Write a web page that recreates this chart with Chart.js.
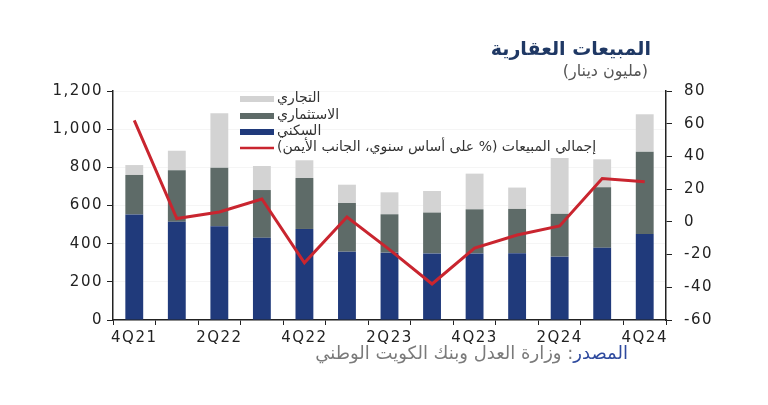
<!DOCTYPE html>
<html>
<head>
<meta charset="utf-8">
<script src="https://cdn.jsdelivr.net/npm/chart.js@4"></script>
<style>
  body { margin: 0; background: #fff; }
  #wrap { position: relative; width: 768px; height: 405px; }
  canvas { position: absolute; left: 0; top: 0; }
  .txt { position: absolute; direction: rtl; font-family: "DejaVu Sans", sans-serif; white-space: nowrap; }
  #title { right: 117px; top: 37px; font-size: 19px; font-weight: bold; color: #1F3864; }
  #sub { right: 120px; top: 61px; font-size: 16px; color: #555; }
  #src { right: 140px; top: 342px; font-size: 18px; color: #7a7a7a; }
  #src span { color: #2E4A9E; }
</style>
</head>
<body>
<div id="wrap">
  <canvas id="c" width="768" height="405"></canvas>
  <div class="txt" id="title">المبيعات العقارية</div>
  <div class="txt" id="sub">(مليون دينار)</div>
  <div class="txt" id="src"><span>المصدر</span>: وزارة العدل وبنك الكويت الوطني</div>
</div>
<script>
const categories = ['4Q21', '1Q22', '2Q22', '3Q22', '4Q22', '1Q23', '2Q23', '3Q23', '4Q23', '1Q24', '2Q24', '3Q24', '4Q24'];
const residential = [553, 515, 491, 431, 477, 358, 353, 349, 349, 350, 332, 379, 451];
const investment = [207, 270, 307, 250, 267, 255, 201, 214, 231, 232, 224, 316, 431];
const commercial = [52, 102, 285, 126, 93, 96, 115, 113, 187, 112, 293, 147, 196];
const totalYoY = [62, 2, 6, 14, -25, 3, -17, -38, -16, -8, -2.5, 26.5, 24.5];

const seriesNames = ['السكني', 'الاستثماري', 'التجاري', 'إجمالي المبيعات (% على أساس سنوي، الجانب الأيمن)'];
const colors = { res: '#203A7B', inv: '#5E6B68', com: '#D3D3D3', line: '#C9252F' };

// wider tick lettering like the original
const spacing = {
  id: 'spacing',
  beforeDraw(chart) { chart.ctx.letterSpacing = '1.5px'; },
  beforeDatasetsDraw(chart) { chart.ctx.letterSpacing = '0px'; }
};

// legend drawn inside the plot, boxes on the left
const legendBox = {
  id: 'legendBox',
  afterDraw(chart) {
    const ctx = chart.ctx;
    const order = [3, 2, 1, 0]; // commercial, investment, residential, line
    const rows = [99, 116, 132, 148];
    ctx.save();
    ctx.font = '14px "DejaVu Sans", sans-serif';
    ctx.textBaseline = 'middle';
    ctx.direction = 'rtl';
    ctx.textAlign = 'left';
    order.forEach((di, i) => {
      const ds = chart.data.datasets[di];
      const y = rows[i];
      if (ds.type === 'line') {
        ctx.strokeStyle = ds.borderColor;
        ctx.lineWidth = 2.5;
        ctx.beginPath();
        ctx.moveTo(240, y);
        ctx.lineTo(274, y);
        ctx.stroke();
      } else {
        ctx.fillStyle = ds.backgroundColor;
        ctx.fillRect(240, y - 3, 34, 6);
      }
      ctx.fillStyle = '#333';
      ctx.fillText(ds.label, 277, y - 1);
    });
    ctx.restore();
  }
};

new Chart(document.getElementById('c'), {
  data: {
    labels: categories,
    datasets: [
      { type: 'line', label: seriesNames[3], data: totalYoY, yAxisID: 'y1', borderColor: colors.line, borderWidth: 3, pointRadius: 0, tension: 0, order: 0 },
      { type: 'bar', label: seriesNames[0], data: residential, backgroundColor: colors.res, stack: 's', order: 1 },
      { type: 'bar', label: seriesNames[1], data: investment, backgroundColor: colors.inv, stack: 's', order: 2 },
      { type: 'bar', label: seriesNames[2], data: commercial, backgroundColor: colors.com, stack: 's', order: 3 }
    ]
  },
  options: {
    responsive: false,
    animation: false,
    layout: { padding: { top: 91, left: 0, right: 0, bottom: 0 } },
    datasets: { bar: { categoryPercentage: 1, barPercentage: 0.42 } },
    plugins: { legend: { display: false }, tooltip: { enabled: false } },
    scales: {
      x: {
        stacked: true,
        afterFit(s) { s.height = 85; },
        grid: { drawOnChartArea: false, tickLength: 5, tickColor: '#222', offset: true },
        border: { color: '#222', width: 1.5 },
        ticks: {
          autoSkip: false, maxRotation: 0, padding: 4, color: '#222',
          font: { family: 'DejaVu Sans', size: 15 },
          callback(v, i) { return i % 2 === 0 ? categories[i] : ''; }
        }
      },
      y: {
        stacked: true,
        position: 'left',
        min: 0, max: 1200,
        afterFit(s) { s.width = 113; },
        grid: { color: 'rgba(0,0,0,0.04)', tickColor: '#222', tickLength: 6 },
        border: { color: '#222', width: 1.5 },
        ticks: {
          stepSize: 200, padding: 4, color: '#222',
          font: { family: 'DejaVu Sans', size: 15 },
          callback(v) { return v.toLocaleString('en-US'); }
        }
      },
      y1: {
        position: 'right',
        min: -60, max: 80,
        afterFit(s) { s.width = 102; },
        grid: { drawOnChartArea: false, tickColor: '#222', tickLength: 6 },
        border: { color: '#222', width: 1.5 },
        ticks: {
          stepSize: 20, padding: 12, color: '#222',
          font: { family: 'DejaVu Sans', size: 15 }
        }
      }
    }
  },
  plugins: [spacing, legendBox]
});
</script>
</body>
</html>
